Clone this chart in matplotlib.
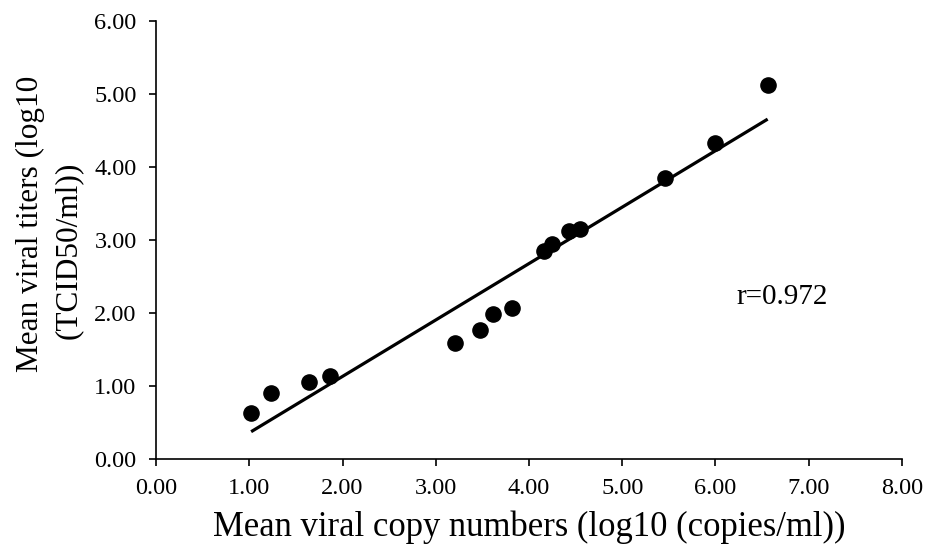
import matplotlib
matplotlib.use("Agg")
import matplotlib.pyplot as plt
import numpy as np

# mean viral copy numbers (log10 copies/ml) vs mean viral titers (log10 TCID50/ml)
copies = [1.02, 1.23, 1.64, 1.87, 3.21, 3.47, 3.61, 3.82,
          4.16, 4.25, 4.43, 4.55, 5.46, 6.00, 6.56]
titers = [0.63, 0.90, 1.05, 1.14, 1.59, 1.76, 1.98, 2.07,
          2.85, 2.95, 3.12, 3.15, 3.85, 4.33, 5.13]
r_text = "r=0.972"
ylab = ["Mean viral titers (log10", "(TCID50/ml))"]

plt.rcParams["font.family"] = ["Liberation Serif", "DejaVu Serif"]

fig = plt.figure(figsize=(9.26, 5.46), dpi=100)
ax = fig.add_axes([0.1685, 0.1595, 0.8055, 0.802])

x = np.array(copies)
y = np.array(titers)
slope, icpt = np.polyfit(x, y, 1)
xl = np.array([x.min(), x.max()])
ax.plot(xl, slope * xl + icpt, color="black", lw=2.3, solid_capstyle="butt", zorder=2)
ax.scatter(x, y, s=120, color="black", zorder=3)

ax.text(6.71, 2.22, r_text, fontsize=21, ha="center", va="center")

ax.set_xlim(0, 8)
ax.set_ylim(0, 6)
ax.set_xticks(np.arange(0, 9, 1))
ax.set_yticks(np.arange(0, 7, 1))
ax.xaxis.set_major_formatter(plt.FormatStrFormatter("%.2f"))
ax.yaxis.set_major_formatter(plt.FormatStrFormatter("%.2f"))
ax.tick_params(labelsize=17.5, length=5, width=1.2, direction="out")
ax.tick_params(axis="x", pad=9)
ax.tick_params(axis="y", pad=9)

for s in ["top", "right"]:
    ax.spines[s].set_visible(False)
for s in ["left", "bottom"]:
    ax.spines[s].set_linewidth(1.2)

ax.set_xlabel("Mean viral copy numbers (log10 (copies/ml))", fontsize=24.9, labelpad=8)
# two-line y label, each line placed as in the original
fig.text(0.0324, 0.590, ylab[0], fontsize=22.5, rotation=90, ha="center", va="center")
fig.text(0.0734, 0.542, ylab[1], fontsize=22.5, rotation=90, ha="center", va="center")

fig.savefig("out.png", dpi=100)
